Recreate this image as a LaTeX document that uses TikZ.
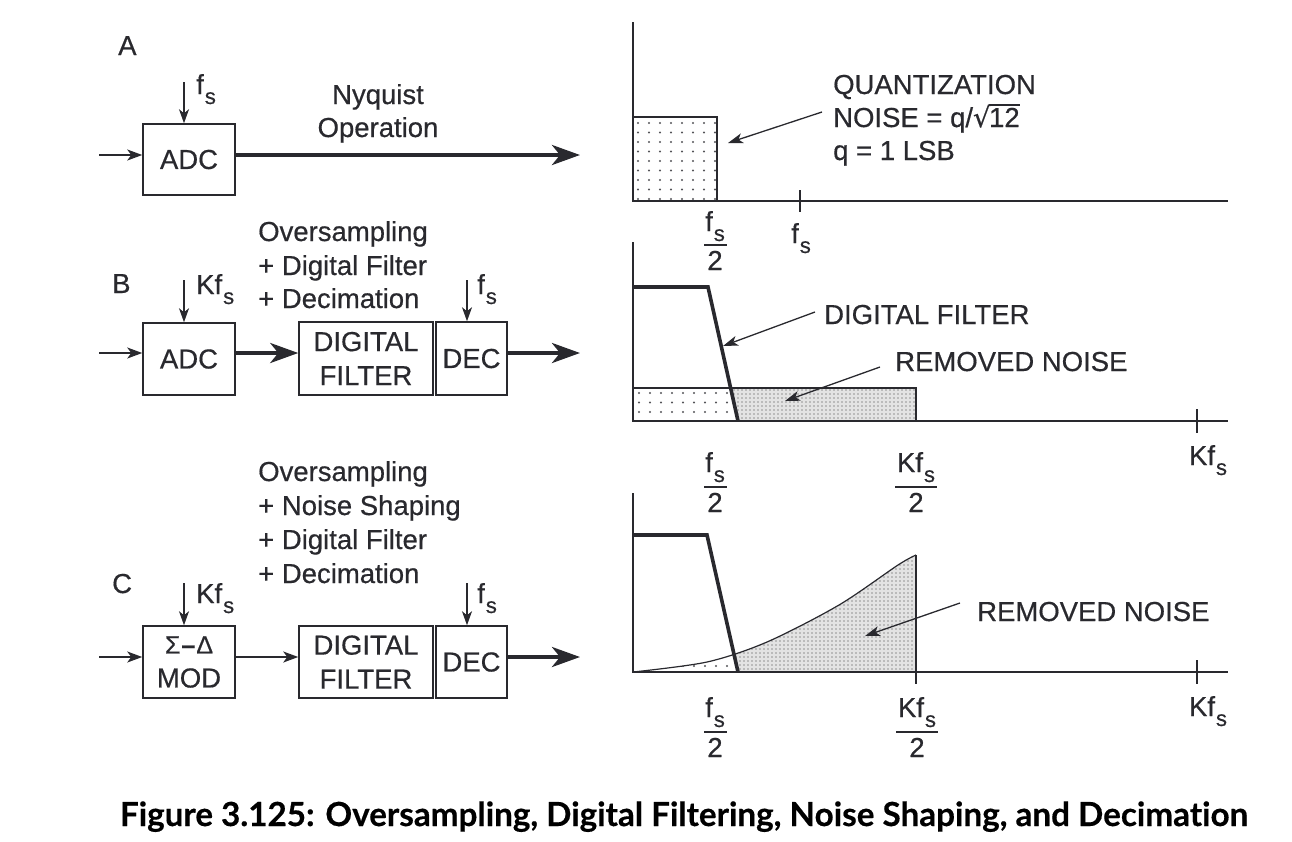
\documentclass[tikz,border=0pt]{standalone}
\usepackage{fontspec}
\setmainfont{Liberation Sans}[FakeBold=0.5]
\newfontfamily\capfont{Lato}[Ligatures=NoCommon,BoldFeatures={FakeBold=0.4}]
\newfontfamily\dejavu{DejaVu Sans}[FakeBold=0.5]
\usetikzlibrary{arrows.meta}
\definecolor{ink}{rgb}{0.16,0.16,0.18}
\newcommand\sbs[1]{\kern1pt\raisebox{-10pt}{\fontsize{22}{22}\selectfont #1}}
\newcommand\fsub{f\sbs{s}}
\newcommand\Kfsub{Kf\sbs{s}}
\newcommand\radtwelve{{\dejavu\char"221A}\kern-1.5pt\setbox0\hbox{12}\rlap{\rule[21.5pt]{\wd0}{1.6pt}}\box0}
% sparse dot grid: x0 y0 ncols nrows
\newcommand\sparsedots[4]{\foreach \c in {0,...,#3}{\foreach \r in {0,...,#4}{\fill[ink!80] ({#1+\c*11},{#2+\r*9.5}) circle (1.15pt);}}}
% dense dot grid
\newcommand\densedots[4]{\foreach \c in {0,...,#3}{\foreach \r in {0,...,#4}{\fill[gray!85] ({#1+\c*4},{#2+\r*4}) circle (0.85pt);}}}
\begin{document}
\begin{tikzpicture}[x=1pt,y=-1pt,
  every node/.style={text=ink, inner sep=0pt, font=\fontsize{27.5}{34}\selectfont},
  box/.style={draw=ink, line width=1.5pt, align=center},
  thinarr/.style={draw=ink, line width=1.5pt, -{Stealth[length=15pt,width=11pt,inset=4pt]}},
  thickarr/.style={draw=ink, line width=4pt, -{Stealth[length=28pt,width=20pt,inset=8pt]}},
  clk/.style={draw=ink, line width=1.5pt, -{Stealth[length=14pt,width=10pt,inset=4pt]}},
  ptr/.style={draw=ink, line width=1.3pt, -{Stealth[length=15pt,width=10pt,inset=4pt]}},
  axis/.style={draw=ink, line width=1.6pt},
  tick/.style={draw=ink, line width=1.5pt},
  filt/.style={draw=ink, line width=3.6pt, line join=miter},
  fbar/.style={draw=ink, line width=1.8pt},
  lbl/.style={anchor=base west},
  ctr/.style={anchor=base},
]
\useasboundingbox (0,0) rectangle (1292,841);

%================ LEFT: block diagrams ================
% ---- A ----
\node[lbl] (labA) at (118,55) {A};
\node[box, minimum width=92pt, minimum height=71pt] (adcA) at (189,159.5) {ADC};
\coordinate (inA) at (99,155);
\coordinate (ckA) at (184,82);
\coordinate (outA) at (580,155);
\draw[thinarr] (inA) -- (inA -| adcA.west);
\draw[clk] (ckA) -- (ckA |- adcA.north);
\draw[thickarr] (inA -| adcA.east) -- (outA);
\node[lbl] (fsA) at (196,94) {\fsub};
\node[ctr] (nyq1) at (378,104) {Nyquist};
\node[ctr] (nyq2) at (378,137) {Operation};

% ---- B ----
\node[lbl] (labB) at (112,293) {B};
\node[lbl] (tB1) at (258,241) {Oversampling};
\node[lbl] (tB2) at (258,275) {+ Digital Filter};
\node[lbl] (tB3) at (258,308) {+ Decimation};
\node[box, minimum width=92pt, minimum height=72pt] (adcB) at (189,359) {ADC};
\node[box, minimum width=134pt, minimum height=73pt] (dfB) at (366,358.5) {DIGITAL\\FILTER};
\node[box, minimum width=71pt, minimum height=73pt] (decB) at (471.5,358.5) {DEC};
\coordinate (inB) at (99,353);
\coordinate (ckB) at (184,280);
\coordinate (ckB2) at (467,280);
\coordinate (outB) at (580,353);
\draw[thinarr] (inB) -- (inB -| adcB.west);
\draw[clk] (ckB) -- (ckB |- adcB.north);
\draw[clk] (ckB2) -- (ckB2 |- decB.north);
\draw[thickarr] (inB -| adcB.east) -- (inB -| dfB.west);
\draw[thickarr] (inB -| decB.east) -- (outB);
\node[lbl] (KfB) at (196,294) {\Kfsub};
\node[lbl] (fsB) at (477,294) {\fsub};

% ---- C ----
\node[lbl] (labC) at (112,593) {C};
\node[lbl] (tC1) at (258,481) {Oversampling};
\node[lbl] (tC2) at (258,515) {+ Noise Shaping};
\node[lbl] (tC3) at (258,549) {+ Digital Filter};
\node[lbl] (tC4) at (258,583) {+ Decimation};
\node[box, minimum width=92pt, minimum height=72pt] (sdC) at (189,662) {\fontsize{25}{34}\selectfont Σ\kern1pt\textbf{–}\kern1ptΔ\\MOD};
\node[box, minimum width=134pt, minimum height=72pt] (dfC) at (366,662) {DIGITAL\\FILTER};
\node[box, minimum width=71pt, minimum height=72pt] (decC) at (471.5,662) {DEC};
\coordinate (inC) at (99,657);
\coordinate (ckC) at (184,583);
\coordinate (ckC2) at (467,583);
\coordinate (outC) at (580,657);
\draw[thinarr] (inC) -- (inC -| sdC.west);
\draw[clk] (ckC) -- (ckC |- sdC.north);
\draw[clk] (ckC2) -- (ckC2 |- decC.north);
\draw[thinarr] (inC -| sdC.east) -- (inC -| dfC.west);
\draw[thickarr] (inC -| decC.east) -- (outC);
\node[lbl] (KfC) at (196,603) {\Kfsub};
\node[lbl] (fsC) at (477,603) {\fsub};

%================ RIGHT: spectra ================
% ---- A ----
\begin{scope}
  \clip (633,117) rectangle (717,201);
  \sparsedots{638}{123}{7}{8}
\end{scope}
\draw[ink, line width=1.5pt] (633,117) rectangle (717,201);
\draw[axis] (633,22) -- (633,201) -- (1228,201);
\draw[tick] (800,190) -- (800,212);
\node[lbl] (qA1) at (833,94) {QUANTIZATION};
\node[lbl] (qA2) at (833,127) {NOISE = q/\radtwelve};
\node[lbl] (qA3) at (833,160) {q = 1 LSB};
\coordinate (qAp) at (728,143);
\draw[ptr] (qA2.west |- 0,112) ++(-11,0) coordinate (qAs) -- (qAp);
\node[ctr] (fA1n) at (715,231) {\fsub};
\draw[fbar] (704,245) -- (727,245);
\node[ctr] (fA1d) at (715,270) {2};
\node[ctr] (fA2) at (801,243) {\fsub};

% ---- B ----
\begin{scope}
  \clip (633,388) -- (730.6,388) -- (738,421) -- (633,421) -- cycle;
  \sparsedots{639}{393}{9}{3}
\end{scope}
\begin{scope}
  \clip (730.6,388) -- (916,388) -- (916,421) -- (738,421) -- cycle;
  \fill[gray!22] (720,385) rectangle (920,425);
  \densedots{726}{390}{48}{8}
\end{scope}
\draw[ink, line width=1.2pt] (633,388) rectangle (916,421);
\draw[axis] (633,242) -- (633,421) -- (1228,421);
\draw[tick] (1197,409) -- (1197,433);
\draw[filt] (633,287) -- (708,287) -- (738,421);
\node[lbl] (dfl) at (824,324) {DIGITAL FILTER};
\draw[ptr] (815,312) coordinate (dfs) -- (723,346);
\node[lbl] (rnB) at (895,371) {REMOVED NOISE};
\draw[ptr] (880,367) coordinate (rnBs) -- (785,401);
\node[ctr] (fB1n) at (715,472) {\fsub};
\draw[fbar] (704,487) -- (727,487);
\node[ctr] (fB1d) at (715,512) {2};
\node[ctr] (fB2n) at (916,472) {\Kfsub};
\draw[fbar] (895,487) -- (937,487);
\node[ctr] (fB2d) at (916,512) {2};
\node[ctr] (KB) at (1208,465) {\Kfsub};

% ---- C ----
\def\curve{plot[smooth] coordinates {(633,672) (707,662) (767,642) (839,605) (898,565) (916,555)}}
\begin{scope}
  \clip \curve -- (916,672) -- cycle;
  \begin{scope}
    \clip (699,500) -- (707,535) -- (738,672) -- (600,672) -- (600,500) -- cycle;
    \sparsedots{639}{666}{10}{1}
  \end{scope}
  \begin{scope}
    \clip (699,500) -- (738,672) -- (930,672) -- (930,500) -- cycle;
    \fill[gray!22] (690,540) rectangle (920,680);
    \densedots{700}{553}{55}{30}
  \end{scope}
\end{scope}
\draw[ink, line width=1.2pt] \curve;
\draw[ink, line width=1.5pt] (916,555) -- (916,684);
\draw[axis] (633,493) -- (633,672) -- (1228,672);
\draw[tick] (1197,660) -- (1197,684);
\draw[filt] (633,535) -- (707,535) -- (738,672);
\node[lbl] (rnC) at (977,621) {REMOVED NOISE};
\draw[ptr] (960,603) coordinate (rnCs) -- (865,636);
\node[ctr] (fC1n) at (715,717) {\fsub};
\draw[fbar] (704,732) -- (727,732);
\node[ctr] (fC1d) at (715,757) {2};
\node[ctr] (fC2n) at (917,717) {\Kfsub};
\draw[fbar] (896,732) -- (938,732);
\node[ctr] (fC2d) at (917,757) {2};
\node[ctr] (KC) at (1208,716) {\Kfsub};

%================ caption ================
\node[ctr, text=black] (cap) at (684,826) {\resizebox{1128pt}{!}{\capfont\bfseries Figure 3.125: Oversampling, Digital Filtering, Noise Shaping, and Decimation}};
\end{tikzpicture}
\end{document}
